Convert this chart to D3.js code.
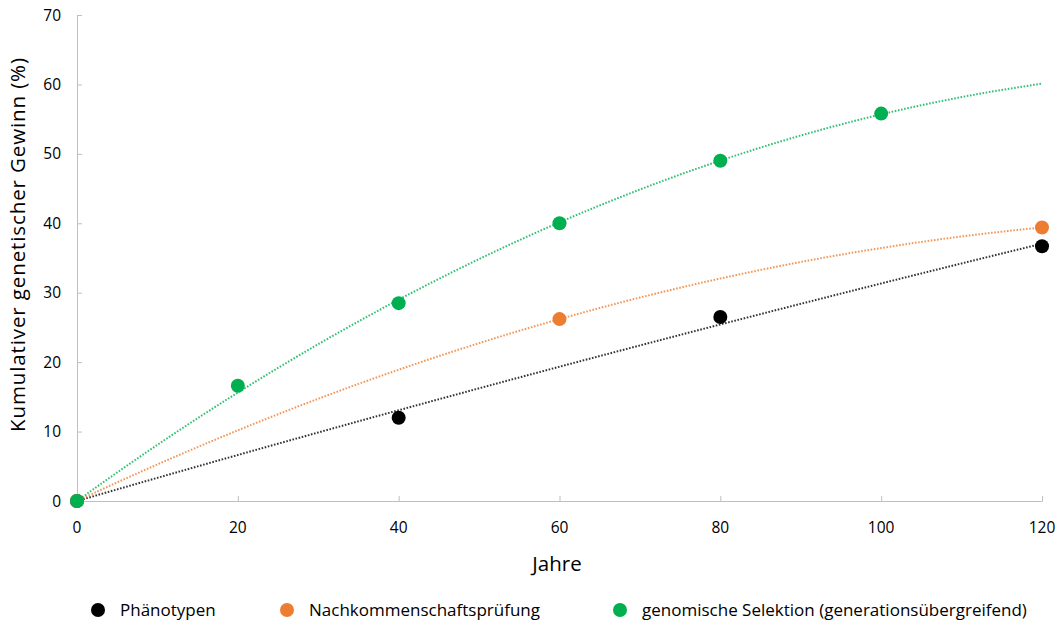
<!DOCTYPE html>
<html><head><meta charset="utf-8">
<script src="https://cdn.jsdelivr.net/npm/d3@7"></script>
<style>body{margin:0;background:#fff}svg{display:block}text{font-family:"Open Sans",sans-serif;fill:#000}</style>
</head><body>
<svg id="c" width="1058" height="625"></svg>
<script>
const xTicks = [0, 20, 40, 60, 80, 100, 120];
const yTicks = [0, 10, 20, 30, 40, 50, 60, 70];
const seriesNames = ["Phänotypen", "Nachkommenschaftsprüfung", "genomische Selektion (generationsübergreifend)"];
const seriesColors = ["#000000", "#ed7d31", "#00b050"];
const phenoYears = [0, 40, 80, 120];
const phenoValues = [0, 12, 26.5, 36.7];
const progenyYears = [0, 60, 120];
const progenyValues = [0, 26.2, 39.4];
const genomicYears = [0, 20, 40, 60, 80, 100];
const genomicValues = [0, 16.6, 28.5, 40, 49, 55.8];

const series = [
  {name: seriesNames[0], color: seriesColors[0], xs: phenoYears, ys: phenoValues},
  {name: seriesNames[1], color: seriesColors[1], xs: progenyYears, ys: progenyValues},
  {name: seriesNames[2], color: seriesColors[2], xs: genomicYears, ys: genomicValues}
];

const svg = d3.select("#c");
const x = d3.scaleLinear().domain([0, 120]).range([77, 1042]);
const y = d3.scaleLinear().domain([0, 70]).range([501, 15]);
const axisColor = "#bfbfbf";

// axes
const gx = svg.append("g").attr("transform", `translate(0,${y(0)})`)
  .call(d3.axisTop(x).tickValues(xTicks).tickSize(5).tickFormat(""));
gx.select(".domain").attr("stroke", axisColor);
gx.selectAll(".tick line").attr("stroke", axisColor);
svg.append("g").selectAll("text").data(xTicks).join("text")
  .attr("x", d => x(d)).attr("y", 533).attr("text-anchor", "middle")
  .attr("font-size", 15.5).text(d => d);

const gy = svg.append("g").attr("transform", `translate(${x(0)},0)`)
  .call(d3.axisRight(y).tickValues(yTicks).tickSize(5).tickFormat(""));
gy.select(".domain").attr("stroke", axisColor);
gy.selectAll(".tick line").attr("stroke", axisColor);
svg.append("g").selectAll("text").data(yTicks).join("text")
  .attr("x", 61).attr("y", d => y(d) + 5.5).attr("text-anchor", "end")
  .attr("font-size", 15.5).text(d => d);

// titles
svg.append("text").attr("transform", "translate(25,245) rotate(-90)")
  .attr("text-anchor", "middle").attr("font-size", 20.5)
  .attr("textLength", 374).attr("lengthAdjust", "spacing")
  .text("Kumulativer genetischer Gewinn (%)");
svg.append("text").attr("x", 557).attr("y", 571).attr("text-anchor", "middle")
  .attr("font-size", 20.5).text("Jahre");

// quadratic least-squares trend lines through the origin (spreadsheet-style polynomial trendline)
function quadFit0(xs, ys) {
  let s2 = 0, s3 = 0, s4 = 0, t1 = 0, t2 = 0;
  xs.forEach((xi, i) => {
    const yi = ys[i];
    s2 += xi*xi; s3 += xi*xi*xi; s4 += xi*xi*xi*xi;
    t1 += xi*yi; t2 += xi*xi*yi;
  });
  const det = s2*s4 - s3*s3;
  const b = (t1*s4 - s3*t2) / det;
  const c = (s2*t2 - s3*t1) / det;
  return t => b*t + c*t*t;
}

const line = d3.line().x(d => x(d[0])).y(d => y(d[1]));
const xs = d3.range(0, 120.01, 1);
series.forEach(s => {
  const f = quadFit0(s.xs, s.ys);
  svg.append("path").datum(xs.map(t => [t, f(t)]))
    .attr("d", line).attr("fill", "none").attr("stroke", s.color)
    .attr("stroke-opacity", 0.8)
    .attr("stroke-width", 2).attr("stroke-dasharray", "1.6,1.6");
});

series.forEach(s => {
  svg.append("g").selectAll("circle").data(s.xs.map((v, i) => [v, s.ys[i]])).join("circle")
    .attr("cx", d => x(d[0])).attr("cy", d => y(d[1])).attr("r", 7).attr("fill", s.color);
});

// legend
const legX = [98, 287, 620];
const lg = svg.append("g");
series.forEach((s, i) => {
  lg.append("circle").attr("cx", legX[i]).attr("cy", 610).attr("r", 7).attr("fill", s.color);
  lg.append("text").attr("x", legX[i] + 22).attr("y", 616).attr("font-size", 17).text(s.name);
});
</script>
</body></html>
